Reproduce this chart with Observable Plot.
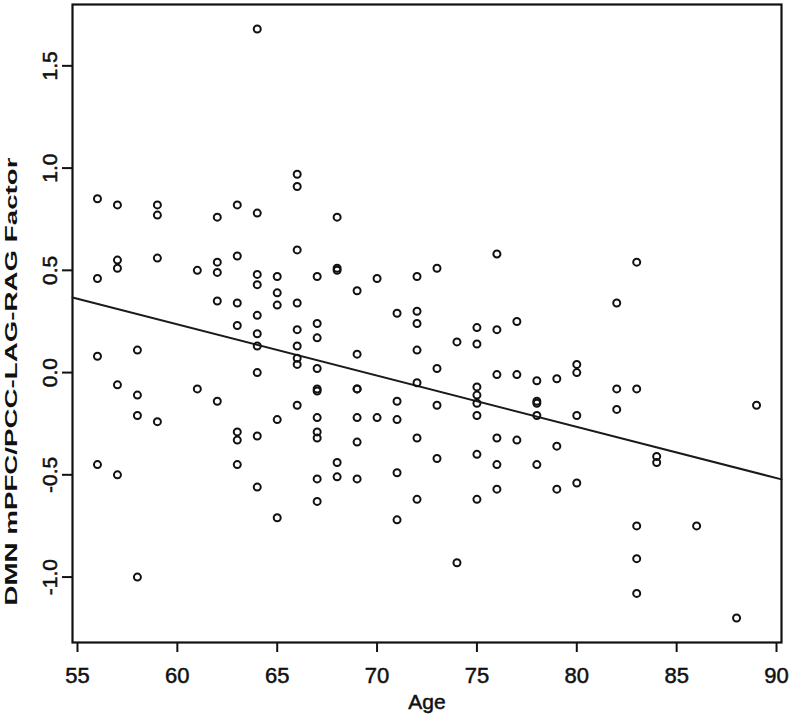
<!DOCTYPE html>
<html><head><meta charset="utf-8">
<script src="https://cdn.jsdelivr.net/npm/d3@7"></script>
<script src="https://cdn.jsdelivr.net/npm/@observablehq/plot@0.6"></script>
<style>
body{margin:0;background:#fff}
#chart svg{display:block}
</style>
</head><body><div id="chart"></div>
<script>
// Data (age in years, factor score)
const ages = [
  56,56,56,56,
  57,57,57,57,57,
  58,58,58,58,
  59,59,59,59,
  61,61,
  62,62,62,62,62,
  63,63,63,63,63,63,63,
  64,64,64,64,64,64,64,64,64,64,
  65,65,65,65,65,
  66,66,66,66,66,66,66,66,66,
  67,67,67,67,67,67,67,67,67,67,67,
  68,68,68,68,68,
  69,69,69,69,69,69,69,
  70,70,
  71,71,71,71,71,
  72,72,72,72,72,72,72,
  73,73,73,73,
  74,74,
  75,75,75,75,75,75,75,75,
  76,76,76,76,76,76,
  77,77,77,
  78,78,78,78,78,
  79,79,79,
  80,80,80,80,
  82,82,82,
  83,83,83,83,83,
  84,84,
  86,
  88,
  89
];
const factor = [
  0.85,0.46,0.08,-0.45,
  0.82,0.55,0.51,-0.06,-0.50,
  0.11,-0.11,-0.21,-1.00,
  0.82,0.77,0.56,-0.24,
  0.50,-0.08,
  0.76,0.54,0.49,0.35,-0.14,
  0.82,0.57,0.34,0.23,-0.29,-0.33,-0.45,
  1.68,0.78,0.48,0.43,0.28,0.19,0.13,0.00,-0.31,-0.56,
  0.47,0.39,0.33,-0.23,-0.71,
  0.97,0.91,0.60,0.34,0.21,0.13,0.07,0.04,-0.16,
  0.47,0.24,0.17,0.02,-0.08,-0.09,-0.22,-0.29,-0.32,-0.52,-0.63,
  0.76,0.51,0.50,-0.44,-0.51,
  0.40,0.09,-0.08,-0.08,-0.22,-0.34,-0.52,
  0.46,-0.22,
  0.29,-0.14,-0.23,-0.49,-0.72,
  0.47,0.30,0.24,0.11,-0.05,-0.32,-0.62,
  0.51,0.02,-0.16,-0.42,
  0.15,-0.93,
  0.22,0.14,-0.07,-0.11,-0.15,-0.21,-0.40,-0.62,
  0.58,0.21,-0.01,-0.32,-0.45,-0.57,
  0.25,-0.01,-0.33,
  -0.04,-0.14,-0.15,-0.21,-0.45,
  -0.03,-0.36,-0.57,
  0.04,0.00,-0.21,-0.54,
  0.34,-0.08,-0.18,
  0.54,-0.08,-0.75,-0.91,-1.08,
  -0.41,-0.44,
  -0.75,
  -1.20,
  -0.16
];
const xTicks = [55, 60, 65, 70, 75, 80, 85, 90];
const xTickLabels = ["55", "60", "65", "70", "75", "80", "85", "90"];
const yTicks = [-1.0, -0.5, 0.0, 0.5, 1.0, 1.5];
const yTickLabels = ["-1.0", "-0.5", "0.0", "0.5", "1.0", "1.5"];
// fitted regression line
const fitIntercept = 1.7393;
const fitSlope = -0.02506;
const xLabel = "Age";
const yLabel = "DMN mPFC/PCC-LAG-RAG Factor";

const points = ages.map((a, i) => ({age: a, value: factor[i]}));
const xDomain = [54.75, 90.25];
const yDomain = [-1.32, 1.80];
const fitLine = xDomain.map(a => ({age: a, value: fitIntercept + fitSlope * a}));

const chart = Plot.plot({
  width: 792, height: 716,
  marginTop: 4, marginRight: 11, marginBottom: 74, marginLeft: 72,
  style: {fontFamily: "'Liberation Sans', Arial, sans-serif", fontSize: "20px", color: "#111", background: "#fff"},
  x: {domain: xDomain},
  y: {domain: yDomain},
  marks: [
    Plot.axisX({ticks: xTicks, tickFormat: d => xTickLabels[xTicks.indexOf(d)], tickSize: 10, tickPadding: 15,
      label: xLabel, labelAnchor: "center", labelArrow: "none", labelOffset: 66, strokeWidth: 2}),
    Plot.axisY({ticks: yTicks, tickFormat: d => yTickLabels[yTicks.indexOf(d)], tickSize: 10, tickPadding: 6, tickRotate: -90,
      label: yLabel, labelAnchor: "center", labelArrow: "none", labelOffset: 68, strokeWidth: 2}),
    Plot.frame({stroke: "#111", strokeWidth: 2.2}),
    Plot.line(fitLine, {x: "age", y: "value", stroke: "#1a1a1a", strokeWidth: 2}),
    Plot.dot(points, {x: "age", y: "value", r: 3.5, stroke: "#111", strokeWidth: 2, fill: "none"})
  ]
});
document.getElementById("chart").appendChild(chart);

// text sizing / weight to match the reference
chart.querySelectorAll("text").forEach(t => {
  const s = t.textContent;
  if (xTickLabels.includes(s) && !yTickLabels.includes(s)) {
    t.style.fontSize = "22px";
    t.style.stroke = "#111"; t.style.strokeWidth = "0.5px";
  } else if (yTickLabels.includes(s)) {
    t.style.fontSize = "21px";
    t.style.stroke = "#111"; t.style.strokeWidth = "0.5px";
  } else if (s === xLabel) {
    t.style.fontSize = "21px";
    t.style.stroke = "#111"; t.style.strokeWidth = "0.5px";
  } else if (s === yLabel) {
    t.setAttribute("textLength", 448);
    t.setAttribute("lengthAdjust", "spacingAndGlyphs");
    t.setAttribute("x", -58);
    t.style.fontSize = "17px";
    t.style.fontWeight = "bold";
  }
});
</script>
</body></html>
